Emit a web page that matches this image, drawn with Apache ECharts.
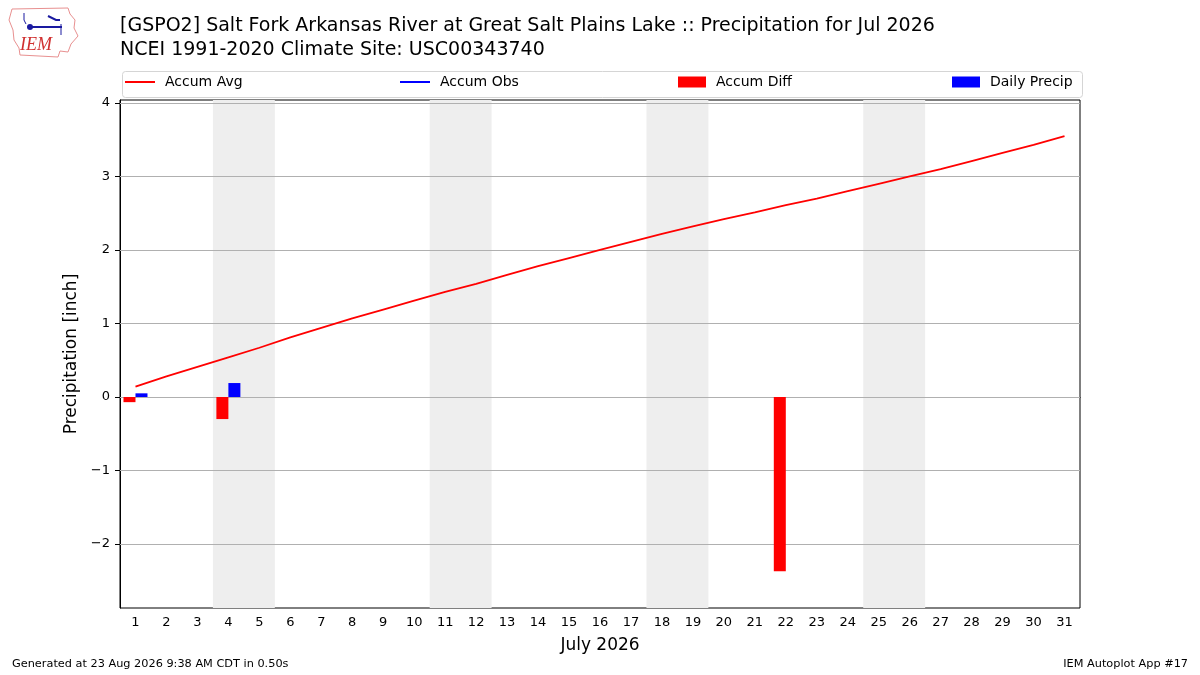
<!DOCTYPE html>
<html><head><meta charset="utf-8">
<script src="https://cdn.jsdelivr.net/npm/echarts@6/dist/echarts.min.js"></script>
<style>html,body{margin:0;padding:0;background:#fff}#c{width:1200px;height:675px}</style>
</head><body><div id="c"></div>
<script>
const days = ['1','2','3','4','5','6','7','8','9','10','11','12','13','14','15','16','17','18','19','20','21','22','23','24','25','26','27','28','29','30','31'];
const accumAvg = [0.14,0.28,0.41,0.54,0.67,0.81,0.94,1.07,1.19,1.31,1.43,1.54,1.66,1.78,1.89,2.00,2.11,2.22,2.32,2.42,2.51,2.61,2.70,2.80,2.90,3.00,3.10,3.21,3.32,3.43,3.55];
const accumObs = [];
const accumDiff = [-0.07,null,null,-0.30,null,null,null,null,null,null,null,null,null,null,null,null,null,null,null,null,null,-2.37,null,null,null,null,null,null,null,null,null];
const dailyPrecip = [0.05,null,null,0.19,null,null,null,null,null,null,null,null,null,null,null,null,null,null,null,null,null,null,null,null,null,null,null,null,null,null,null];
const yTicks = [-2,-1,0,1,2,3,4];
const weekends = [[3.5,5.5],[10.5,12.5],[17.5,19.5],[24.5,26.5]];
const titleLines = ['[GSPO2] Salt Fork Arkansas River at Great Salt Plains Lake :: Precipitation for Jul 2026','NCEI 1991-2020 Climate Site: USC00343740'];

const FONT = 'DejaVu Sans';
const chart = echarts.init(document.getElementById('c'), null, {renderer:'canvas'});
const txt = {fontFamily: FONT, fontSize: 13, color: '#000'};
const LINE_ICON = 'path://M0,0h30v2h-30z';
function legendAt(name, left, isBar) {
  return {
    data: [name],
    icon: isBar ? 'rect' : LINE_ICON,
    left: left, top: isBar ? 75 : 75, padding: 0,
    itemWidth: isBar ? 28 : 30, itemHeight: isBar ? 11 : 14,
    textStyle: Object.assign({}, txt, {fontSize: 14, padding: [0,0,0,5]}),
    selectedMode: false
  };
}
chart.setOption({
  animation: false,
  backgroundColor: '#fff',
  title: {
    text: titleLines.join('\n'), left: 115, top: 9,
    textStyle: {fontFamily: FONT, fontSize: 19, fontWeight: 'normal', color: '#000', lineHeight: 24}
  },
  legend: [
    legendAt('Accum Avg', 125, false),
    legendAt('Accum Obs', 400, false),
    legendAt('Accum Diff', 678, true),
    legendAt('Daily Precip', 952, true)
  ],
  grid: {left: 120, right: 120, top: 100, bottom: 67, show: true, borderColor: '#000', borderWidth: 1, backgroundColor: 'transparent'},
  xAxis: [{
    type: 'category', data: days, boundaryGap: true,
    name: 'July 2026', nameLocation: 'middle', nameGap: 29,
    nameTextStyle: {fontFamily: FONT, fontSize: 17, color: '#000'},
    axisLine: {lineStyle: {color: '#000'}},
    axisTick: {alignWithLabel: true, interval: 0, length: 5, lineStyle: {color: '#000'}},
    axisLabel: Object.assign({interval: 0, margin: 8}, txt),
    splitLine: {show: false}
  },{
    type: 'value', min: 0.5, max: 31.5, show: false
  }],
  yAxis: [{
    type: 'value', min: -2.87, max: 4.04,
    name: 'Precipitation [inch]', nameLocation: 'middle', nameGap: 37,
    nameTextStyle: {fontFamily: FONT, fontSize: 17, color: '#000'},
    axisLine: {show: true, lineStyle: {color: '#000'}},
    axisTick: {show: true, length: 5, customValues: yTicks, lineStyle: {color: '#000'}},
    axisLabel: Object.assign({customValues: yTicks, margin: 10, formatter: v => v < 0 ? '\u2212' + Math.abs(v) : String(v)}, txt),
    splitLine: {show: false}
  }],
  series: [
    {
      name: 'shade', type: 'line', xAxisIndex: 1, data: [], z: 0, silent: true,
      markArea: {silent: true, z: 0, itemStyle: {color: '#eeeeee'},
        data: weekends.map(w => [{xAxis: w[0]}, {xAxis: w[1]}])}
    },
    {
      name: 'grid', type: 'line', xAxisIndex: 1, data: [], z: 1, silent: true,
      markLine: {silent: true, z: 1, symbol: ['none','none'], label: {show: false},
        lineStyle: {color: '#b0b0b0', width: 1, type: 'solid'},
        data: yTicks.map(v => ({yAxis: v}))}
    },
    {
      name: 'Accum Diff', type: 'bar', data: accumDiff, barWidth: 12, barGap: '0%',
      itemStyle: {color: '#ff0000'}, z: 3
    },
    {
      name: 'Daily Precip', type: 'bar', data: dailyPrecip, barWidth: 12, barGap: '0%',
      itemStyle: {color: '#0000ff'}, z: 3
    },
    {
      name: 'Accum Avg', type: 'line', data: accumAvg, symbol: 'none', showSymbol: false,
      lineStyle: {color: '#ff0000', width: 1.8}, itemStyle: {color: '#ff0000'}, z: 4
    },
    {
      name: 'Accum Obs', type: 'line', data: accumObs, symbol: 'none', showSymbol: false,
      lineStyle: {color: '#0000ff', width: 1.8}, itemStyle: {color: '#0000ff'}, z: 4
    }
  ],
  graphic: [
    {type: 'rect', left: 120, top: 69, shape: {width: 960, height: 26, r: 3}, style: {fill: 'none', stroke: '#d5d5d5', lineWidth: 1}, z: 0},
    {type: 'polyline', shape: {points: [[12,9],[68,8],[70,14],[75,20],[74,28],[78,36],[71,44],[68,52],[60,51],[58,57],[20,55],[19,48],[14,40],[13,30],[9,20],[12,9]]},
      style: {fill: 'none', stroke: '#e89090', lineWidth: 1}},
    {type: 'polyline', shape: {points: [[30,27],[62,27]]}, style: {stroke: '#1a1aa0', lineWidth: 2}},
    {type: 'circle', shape: {cx: 30, cy: 27, r: 3}, style: {fill: '#1a1aa0'}},
    {type: 'polyline', shape: {points: [[48,16],[56,20],[60,20]]}, style: {stroke: '#1a1aa0', lineWidth: 2, fill: 'none'}},
    {type: 'polyline', shape: {points: [[24,13],[24,20],[26,24]]}, style: {stroke: '#1a1aa0', lineWidth: 1, fill: 'none'}},
    {type: 'polyline', shape: {points: [[61,24],[61,35]]}, style: {stroke: '#1a1aa0', lineWidth: 1}},
    {type: 'text', left: 20, top: 36, style: {text: 'IEM', fontFamily: 'Liberation Serif', fontStyle: 'italic', fontSize: 18, fill: '#d03030'}},
    {type: 'text', left: 12, top: 659, style: {text: 'Generated at 23 Aug 2026 9:38 AM CDT in 0.50s', fontFamily: FONT, fontSize: 11.3, fill: '#000'}},
    {type: 'text', right: 12, top: 659, style: {text: 'IEM Autoplot App #17', fontFamily: FONT, fontSize: 11.3, fill: '#000'}}
  ]
});
</script>
</body></html>
